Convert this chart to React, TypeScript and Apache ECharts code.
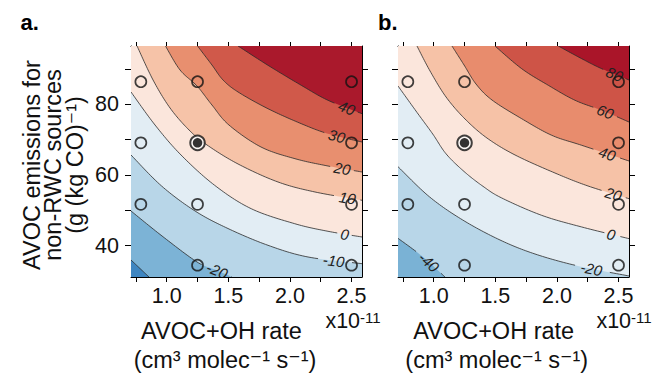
import React, { useEffect, useRef } from "react";
import * as echarts from "echarts";

const FONT = "'Liberation Sans', Arial, Helvetica, 'DejaVu Sans', sans-serif";

// axis ranges (x in units of 1e-11 cm3 molec-1 s-1)
const X_MIN = 0.71;
const X_MAX = 2.585;
const Y_MIN = 31.15;
const Y_MAX = 96.5;
const xTickValues = [0.75, 1.0, 1.25, 1.5, 1.75, 2.0, 2.25, 2.5];
const xLabelValues = [1.0, 1.5, 2.0, 2.5];
const yTickValues = [40, 50, 60, 70, 80, 90];
const yLabelValues = [40, 60, 80];

// sensitivity simulation sites
const openSites = [
  [0.79, 86.4], [1.25, 86.4], [2.5, 86.4],
  [0.79, 69.1], [2.5, 69.1],
  [0.79, 51.7], [1.25, 51.7], [2.5, 51.7],
  [1.25, 34.5], [2.5, 34.5],
];
const baseSite = [[1.25, 69.1]];

// ---- panel a: contour lines (x, y) ----
const levelsA = [-30, -20, -10, 0, 10, 20, 30, 40];
const lineA_m30 = [[0.71, 35.96], [0.856, 31.15]];
const lineA_m20 = [[0.71, 49.82], [0.962, 42.75], [1.246, 35.4], [1.4, 33.13], [1.53, 31.15]];
const lineA_m10 = [[0.71, 65.67], [0.958, 56.9], [1.23, 49.82], [1.497, 44.87], [1.822, 40.12], [2.147, 36.81], [2.585, 34.92]];
const lineA_0 = [[0.71, 83.49], [0.905, 74.15], [1.116, 65.67], [1.389, 57.09], [1.686, 50.47], [2.039, 46.23], [2.309, 44.08], [2.585, 42.47]];
const lineA_10 = [[0.759, 96.5], [0.889, 86.88], [1.027, 78.96], [1.181, 72.74], [1.327, 68.5], [1.579, 63.12], [1.903, 58.03], [2.2035, 55.2], [2.585, 52.85]];
const lineA_20 = [[0.99, 96.5], [1.108, 89.71], [1.246, 85.18], [1.367, 79.81], [1.505, 74.15], [1.765, 67.93], [2.041, 64.62], [2.309, 62.55], [2.585, 60.86]];
const lineA_30 = [[1.25, 96.5], [1.367, 91.13], [1.457, 86.88], [1.579, 83.49], [1.822, 78.76], [2.092, 74.52], [2.309, 71.69], [2.585, 69.34]];
const lineA_40 = [[1.579, 96.5], [1.822, 91.04], [2.092, 85.38], [2.309, 81.14], [2.585, 77.35]];
const labelPosA = [null, [1.408, 33.13], [2.363, 35.88], [2.439, 44.08], [2.458, 53.3], [2.417, 61.99], [2.376, 71.69], [2.458, 79.24]];
const colorsA = ["#3f86c1", "#7cb3d6", "#b8d6e8", "#e2edf4", "#fbe6dc", "#f6c3a8", "#e88f6f", "#d0594a", "#aa192c"];

// ---- panel b: contour lines (x, y) ----
const levelsB = [-40, -20, 0, 20, 40, 60, 80];
const lineB_m40 = [[0.71, 42.1], [0.91, 36.9], [1.0915, 31.15]];
const lineB_m20 = [[0.71, 62.36], [0.964, 53.87], [1.235, 47.28], [1.538, 41.62], [1.822, 37.66], [2.171, 34.27], [2.585, 31.44]];
const lineB_0 = [[0.71, 85.2], [0.856, 78.1], [0.992, 71.6], [1.1, 66.0], [1.246, 61.0], [1.4, 56.8], [1.552, 53.5], [1.876, 48.6], [2.201, 45.3], [2.585, 42.0]];
const lineB_20 = [[0.864, 96.5], [0.97, 89.43], [1.1, 82.07], [1.254, 75.85], [1.432, 70.47], [1.66, 65.67], [1.984, 60.57], [2.252, 56.9], [2.585, 53.3]];
const lineB_40 = [[1.148, 96.5], [1.246, 91.13], [1.343, 85.75], [1.473, 81.22], [1.714, 75.93], [1.958, 71.24], [2.201, 68.41], [2.585, 63.97]];
const lineB_60 = [[1.497, 96.5], [1.714, 90.08], [1.93, 85.38], [2.147, 81.14], [2.363, 78.31], [2.585, 75.0]];
const lineB_80 = [[2.011, 96.5], [2.201, 92.91], [2.363, 90.08], [2.585, 86.88]];
const labelPosB = [[0.964, 35.03], [2.282, 33.13], [2.439, 43.12], [2.458, 54.27], [2.417, 66.51], [2.404, 78.31], [2.471, 88.66]];
const colorsB = ["#7ab2d5", "#b8d6e8", "#e2edf4", "#fbe6dc", "#f6c2a7", "#e88c6d", "#ce5447", "#aa1529"];

const linesA = [lineA_m30, lineA_m20, lineA_m10, lineA_0, lineA_10, lineA_20, lineA_30, lineA_40];
const linesB = [lineB_m40, lineB_m20, lineB_0, lineB_20, lineB_40, lineB_60, lineB_80];

function smoothPts(pts: number[][], steps = 16): number[][] {
  const out: number[][] = [];
  const n = pts.length;
  if (n < 3) {
    for (let i = 0; i < n - 1; i++) {
      for (let s = 0; s < steps; s++) {
        const t = s / steps;
        out.push([pts[i][0] + (pts[i + 1][0] - pts[i][0]) * t, pts[i][1] + (pts[i + 1][1] - pts[i][1]) * t]);
      }
    }
    out.push(pts[n - 1]);
    return out;
  }
  for (let i = 0; i < n - 1; i++) {
    const p0 = pts[Math.max(i - 1, 0)], p1 = pts[i], p2 = pts[i + 1], p3 = pts[Math.min(i + 2, n - 1)];
    for (let s = 0; s < steps; s++) {
      const t = s / steps, t2 = t * t, t3 = t2 * t;
      const f = (a: number, b: number, c: number, d: number) =>
        0.5 * (2 * b + (-a + c) * t + (2 * a - 5 * b + 4 * c - d) * t2 + (-a + 3 * b - 3 * c + d) * t3);
      out.push([f(p0[0], p1[0], p2[0], p3[0]), f(p0[1], p1[1], p2[1], p3[1])]);
    }
  }
  out.push(pts[n - 1]);
  return out;
}

function makeRender(lines: number[][][], levels: number[], labels: (number[] | null)[], colors: string[]) {
  return (_params: any, api: any) => {
    const tl = api.coord([X_MIN, Y_MAX]);
    const br = api.coord([X_MAX, Y_MIN]);
    const fills: any[] = [
      { type: "rect", shape: { x: tl[0], y: tl[1], width: br[0] - tl[0], height: br[1] - tl[1] }, style: { fill: colors[0] } },
    ];
    const strokes: any[] = [];
    const texts: any[] = [];
    const lineStyle = { stroke: "#2a2a2a", lineWidth: 0.8, fill: null };
    lines.forEach((pts, i) => {
      const dense = smoothPts(pts.map((p) => api.coord(p)));
      const poly = dense.slice();
      const first = pts[0], last = pts[pts.length - 1];
      if (Math.abs(last[1] - Y_MIN) < 0.05) poly.push([br[0], br[1]]);
      poly.push([br[0], tl[1]]);
      if (Math.abs(first[0] - X_MIN) < 0.05) poly.push([tl[0], tl[1]]);
      fills.push({ type: "polygon", shape: { points: poly }, style: { fill: colors[i + 1] } });
      const lab = labels[i];
      if (!lab) {
        strokes.push({ type: "polyline", shape: { points: dense }, style: lineStyle });
        return;
      }
      const L = api.coord(lab);
      const cum = [0];
      for (let k = 1; k < dense.length; k++) {
        cum.push(cum[k - 1] + Math.hypot(dense[k][0] - dense[k - 1][0], dense[k][1] - dense[k - 1][1]));
      }
      let j = 0, best = Infinity;
      dense.forEach((p, k) => {
        const d = Math.hypot(p[0] - L[0], p[1] - L[1]);
        if (d < best) { best = d; j = k; }
      });
      const text = String(levels[i]);
      const half = text.length * 4.3 + 2.5;
      const a = dense.filter((_, k) => cum[k] < cum[j] - half);
      const b = dense.filter((_, k) => cum[k] > cum[j] + half);
      if (a.length > 1) strokes.push({ type: "polyline", shape: { points: a }, style: lineStyle });
      if (b.length > 1) strokes.push({ type: "polyline", shape: { points: b }, style: lineStyle });
      const k0 = Math.max(0, j - 4), k1 = Math.min(dense.length - 1, j + 4);
      const ang = Math.atan2(dense[k1][1] - dense[k0][1], dense[k1][0] - dense[k0][0]);
      texts.push({
        type: "text",
        x: dense[j][0],
        y: dense[j][1],
        rotation: -ang,
        style: {
          text,
          fill: "#222",
          fontSize: 15,
          fontStyle: "italic",
          fontFamily: FONT,
          align: "center",
          verticalAlign: "middle",
        },
      });
    });
    return { type: "group", children: [...fills, ...strokes, ...texts] };
  };
}

function xAxes(gridIndex: number) {
  const base = {
    type: "value",
    gridIndex,
    min: X_MIN,
    max: X_MAX,
    splitLine: { show: false },
    axisLine: { show: true, onZero: false, lineStyle: { color: "#000", width: 1 } },
  };
  return [
    {
      ...base,
      position: "bottom",
      axisTick: { show: true, length: 5, customValues: xTickValues, lineStyle: { color: "#000", width: 1 } },
      axisLabel: {
        show: true,
        customValues: xLabelValues,
        formatter: (v: number) => v.toFixed(1),
        fontSize: 21.5,
        color: "#111",
        fontFamily: FONT,
        margin: 8,
      },
    },
    {
      ...base,
      position: "top",
      axisTick: { show: true, length: 4, customValues: xTickValues, lineStyle: { color: "#000", width: 1 } },
      axisLabel: { show: false, customValues: xLabelValues },
    },
  ];
}

function yAxes(gridIndex: number, showLabels: boolean) {
  const base = {
    type: "value",
    gridIndex,
    min: Y_MIN,
    max: Y_MAX,
    splitLine: { show: false },
    axisLine: { show: true, onZero: false, lineStyle: { color: "#000", width: 1 } },
  };
  return [
    {
      ...base,
      position: "left",
      axisTick: { show: true, length: 6, customValues: yTickValues, lineStyle: { color: "#000", width: 1 } },
      axisLabel: {
        show: showLabels,
        customValues: yLabelValues,
        formatter: (v: number) => String(v),
        fontSize: 21.5,
        color: "#111",
        fontFamily: FONT,
        margin: 12,
      },
    },
    {
      ...base,
      position: "right",
      axisTick: { show: true, length: 6, customValues: yTickValues, lineStyle: { color: "#000", width: 1 } },
      axisLabel: { show: false, customValues: yLabelValues },
    },
  ];
}

function siteSeries(xi: number, yi: number) {
  return [
    {
      type: "scatter",
      xAxisIndex: xi,
      yAxisIndex: yi,
      data: openSites,
      symbol: "circle",
      symbolSize: 11,
      z: 5,
      silent: true,
      itemStyle: { color: "rgba(0,0,0,0)", borderColor: "#111", borderWidth: 1.7 },
    },
    {
      type: "scatter",
      xAxisIndex: xi,
      yAxisIndex: yi,
      data: baseSite,
      symbol: "circle",
      symbolSize: 14.5,
      z: 5,
      silent: true,
      itemStyle: { color: "#ffffff", borderColor: "#111", borderWidth: 2 },
    },
    {
      type: "scatter",
      xAxisIndex: xi,
      yAxisIndex: yi,
      data: baseSite,
      symbol: "circle",
      symbolSize: 9.5,
      z: 6,
      silent: true,
      itemStyle: { color: "#000" },
    },
  ];
}

function titleTexts() {
  const t = (x: number, y: number, text: string, size: number, extra: any = {}) => ({
    type: "text",
    x,
    y,
    style: {
      text,
      fontSize: size,
      fontFamily: FONT,
      fill: "#111",
      align: "center",
      verticalAlign: "middle",
      ...extra,
    },
  });
  const sci = (x: number, y: number) => ({
    type: "text",
    x,
    y,
    style: {
      text: "{a|x10}{s|-11}",
      align: "center",
      verticalAlign: "middle",
      rich: {
        a: { fontSize: 21.5, fontFamily: FONT, fill: "#111", verticalAlign: "bottom" },
        s: { fontSize: 15, fontFamily: FONT, fill: "#111", verticalAlign: "top" },
      },
    },
  });
  return [
    t(20.5, 22, "a.", 22, { fontWeight: "bold", align: "left", fill: "#000" }),
    t(378, 22, "b.", 22, { fontWeight: "bold", align: "left", fill: "#000" }),
    { ...t(31.5, 165, "AVOC emissions for", 23.5), rotation: Math.PI / 2 },
    { ...t(53, 165, "non-RWC sources", 23.5), rotation: Math.PI / 2 },
    { ...t(74.5, 165, "(g (kg CO)\u207B\u00B9)", 23.5), rotation: Math.PI / 2 },
    t(221.5, 331, "AVOC+OH rate", 23.5),
    t(225, 360, "(cm\u00B3 molec\u207B\u00B9 s\u207B\u00B9)", 23.5),
    t(493.7, 331, "AVOC+OH rate", 23.5),
    t(496.7, 360, "(cm\u00B3 molec\u207B\u00B9 s\u207B\u00B9)", 23.5),
    sci(353, 321),
    sci(624, 321),
  ];
}

export default function App() {
  const ref = useRef<HTMLDivElement>(null);
  useEffect(() => {
    if (!ref.current) return;
    const chart = echarts.init(ref.current, null, { renderer: "svg" });
    const option: any = {
      animation: false,
      backgroundColor: "#ffffff",
      grid: [
        { left: 131, top: 46, width: 231, height: 231 },
        { left: 398, top: 46, width: 231, height: 231 },
      ],
      xAxis: [...xAxes(0), ...xAxes(1)],
      yAxis: [...yAxes(0, true), ...yAxes(1, false)],
      series: [
        {
          type: "custom",
          xAxisIndex: 0,
          yAxisIndex: 0,
          clip: true,
          silent: true,
          z: 1,
          data: [[1.5, 60]],
          renderItem: makeRender(linesA, levelsA, labelPosA, colorsA),
        },
        {
          type: "custom",
          xAxisIndex: 2,
          yAxisIndex: 2,
          clip: true,
          silent: true,
          z: 1,
          data: [[1.5, 60]],
          renderItem: makeRender(linesB, levelsB, labelPosB, colorsB),
        },
        ...siteSeries(0, 0),
        ...siteSeries(2, 2),
      ],
      graphic: titleTexts(),
    };
    chart.setOption(option);
    return () => chart.dispose();
  }, []);
  return (
    <div
      ref={ref}
      style={{ position: "fixed", left: 0, top: 0, width: 655, height: 373, background: "#fff" }}
    />
  );
}
